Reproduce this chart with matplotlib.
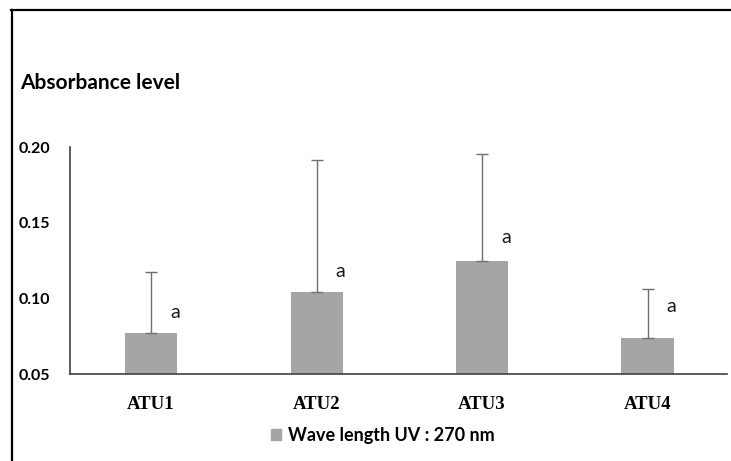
import numpy as np
import matplotlib
matplotlib.use("Agg")
import matplotlib.pyplot as plt
from matplotlib.lines import Line2D
from matplotlib.patches import Patch
from matplotlib.ticker import FormatStrFormatter

categories = ['ATU1', 'ATU2', 'ATU3', 'ATU4']
means = [0.0772, 0.1045, 0.125, 0.0736]
err_upper = [0.0403, 0.0872, 0.0707, 0.0327]
letters = ['a', 'a', 'a', 'a']
letter_y = [0.0904, 0.1175, 0.140, 0.0944]

W, H = 731, 461
fig = plt.figure(figsize=(W / 100, H / 100), dpi=100)

ax = fig.add_axes([70 / W, 87 / H, 657 / W, 227 / H])
x = np.arange(len(categories))
ax.bar(x, np.array(means) - 0.05, bottom=0.05, width=0.315, color='#a5a5a5', zorder=2)
ax.errorbar(x, means, yerr=[[0] * 4, err_upper], fmt='none', ecolor='#6f6f6f',
            elinewidth=1.0, capsize=4.5, capthick=1.0, zorder=3)
for xi, ly, t in zip(x, letter_y, letters):
    ax.text(xi + 0.145, ly, t, fontsize=14, family='Lato', color='#1a1a1a',
            ha='center', va='center')

ax.set_xlim(-0.49, 3.48)
ax.set_ylim(0.05, 0.20)
ax.set_yticks([0.05, 0.10, 0.15, 0.20])
ax.yaxis.set_major_formatter(FormatStrFormatter('%.2f'))
ax.set_xticks(x)
ax.set_xticklabels(categories, family='Liberation Serif', fontweight='bold', fontsize=13.5)
for lab in ax.get_yticklabels():
    lab.set_family('Lato')
    lab.set_fontweight('bold')
    lab.set_fontsize(11.5)
ax.tick_params(axis='both', length=0)
ax.tick_params(axis='y', pad=14)
ax.tick_params(axis='x', pad=16)
for s in ['top', 'right']:
    ax.spines[s].set_visible(False)
ax.spines['left'].set_color('#404040')
ax.spines['bottom'].set_color('#404040')
ax.spines['left'].set_linewidth(1.2)
ax.spines['bottom'].set_linewidth(1.2)

fig.text(20 / W, 1 - 83 / H, 'Absorbance level', family='Lato', fontweight='bold',
         fontsize=15, ha='left', va='center')

fig.legend(handles=[Patch(color='#a5a5a5', label='Wave length UV : 270 nm')],
           loc='center', bbox_to_anchor=(383 / W, 1 - 435 / H), frameon=False,
           prop={'family': 'Lato', 'weight': 'bold', 'size': 13},
           handlelength=0.55, handleheight=0.55, handletextpad=0.4)

# outer frame (only the left and top edges are in view)
fig.add_artist(Line2D([11.5 / W, 11.5 / W], [0, 1 - 10 / H], color='black', lw=1.6,
                      transform=fig.transFigure))
fig.add_artist(Line2D([11 / W, 1.01], [1 - 10 / H, 1 - 10 / H], color='black', lw=1.6,
                      transform=fig.transFigure))

fig.savefig('out.png', dpi=100)
